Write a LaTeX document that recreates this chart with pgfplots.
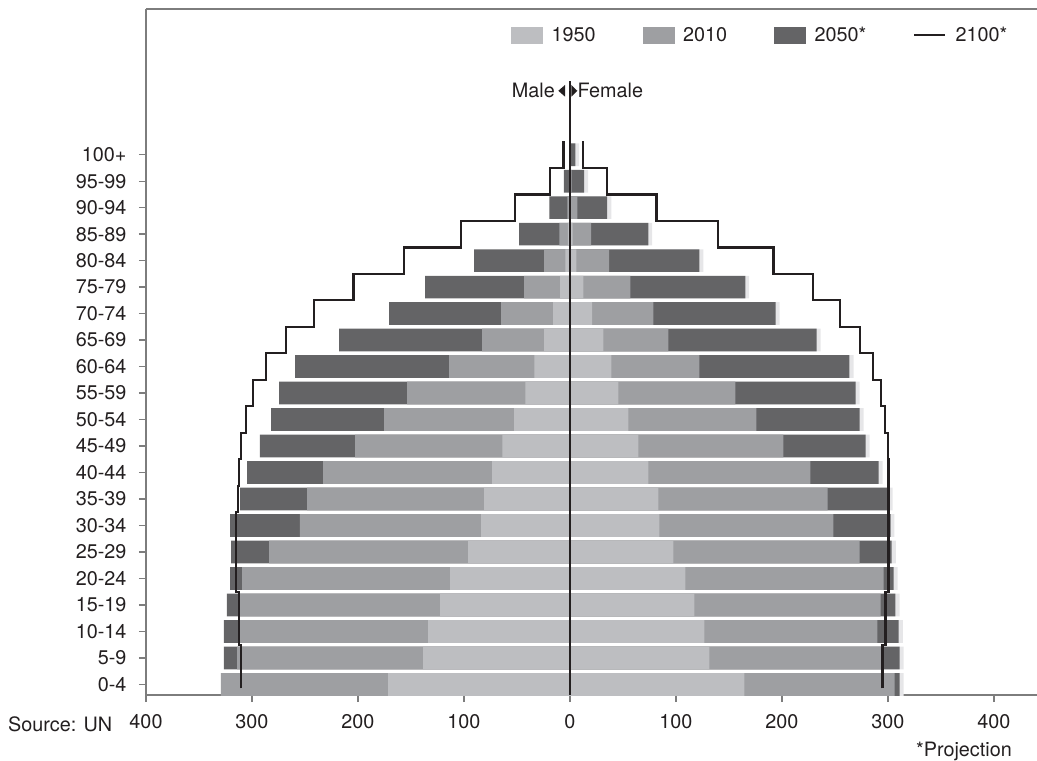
\documentclass[border=0pt]{standalone}
\usepackage{fontspec}
\setmainfont{TeX Gyre Heros}
\usepackage{pgfplots}
\usepackage{pgfplotstable}
\pgfplotsset{compat=1.18}
\definecolor{cA}{RGB}{189,190,193}
\definecolor{cB}{RGB}{158,159,162}
\definecolor{cC}{RGB}{100,100,102}
\definecolor{cE}{RGB}{230,230,232}
\definecolor{frame}{RGB}{125,125,125}
\definecolor{ink}{RGB}{35,31,32}
% population (millions) by age group; m = male, f = female
\pgfplotstableread{
idx m1950 f1950 m2010 f2010 m2050 f2050 edge
0  171.6 164.6 329.3 306.3 326   311   314.8
1  138.5 131.5 314.1 295   326.5 311   314.8
2  133.8 126.8 311.3 290   326.5 310   314
3  122.5 117.4 311.3 293   323.6 307   311
4  113   108.8 309.4 295.8 320.6 305.3 309
5  96    97.5  283.9 273.2 319.7 303.4 307.4
6  83.8  84.3  254.8 248.6 320.6 302.5 306
7  80.9  83.4  248   243   311.3 299.6 304.5
8  73.4  73.9  233   226.9 304.7 291.1 295
9  63.9  64.5  202.7 201.4 292.5 278.9 282.8
10 52.6  55    175.4 175.9 282   273.2 277
11 42.2  45.6  153.6 156   274.5 269.4 273.2
12 33.7  39    114   122   259.4 263.7 267.5
13 24.3  31.4  82.9  92.8  217.9 232.6 236.4
14 15.8  21    64.9  78.7  170.6 193.9 197.7
15 9.2   12.6  43.2  57    136.7 165.5 169
16 4.4   6     24.3  37    90.4  122   125.9
17 2     2.5   10.1  20    47.9  74    77.4
18 1     1     2.5   7     19.5  35    39
19 0.4   0.4   0.8   1.5   5.7   13.3  17
20 0.1   0.1   0.1   0.3   0.5   5     8.6
}\pop
\begin{document}
\begin{tikzpicture}[font=\fontsize{19.8}{23.5}\selectfont, text=ink]
\useasboundingbox (-146pt,-66pt) rectangle (891pt,695pt);
\begin{axis}[
  at={(0pt,0pt)}, anchor=south west,
  scale only axis, width=891pt, height=686pt,
  xmin=-400, xmax=440.6, ymin=-0.4, ymax=25.5,
  axis x line*=box, axis y line*=left,
  axis line style={draw=frame, line width=2pt},
  xtick pos=lower, ytick pos=left,
  tick align=outside, major tick length=7pt,
  tick style={draw=frame, line width=1.3pt},
  xtick={-400,-300,-200,-100,0,100,200,300,400},
  xticklabels={400,300,200,100,0,100,200,300,400},
  ytick={0,1,...,20},
  yticklabels={0-4,5-9,10-14,15-19,20-24,25-29,30-34,35-39,40-44,45-49,50-54,55-59,60-64,65-69,70-74,75-79,80-84,85-89,90-94,95-99,100+},
  tick label style={font=\fontsize{19.8}{23.5}\selectfont, text=ink},
  xticklabel style={yshift=-9pt},
  yticklabel style={xshift=-9pt},
  legend style={draw=none, fill=none, legend columns=4,
    at={(axis description cs:0.4097,0.962)}, anchor=west, inner sep=0pt,
    font=\fontsize{19.8}{23.5}\selectfont, text=ink,
    /tikz/every odd column/.append style={column sep=7pt},
    /tikz/every even column/.append style={column sep=45pt}},
  mybar/.style={xbar, bar width=22.7pt, bar shift=0pt, draw=none, forget plot},
]
\addlegendimage{legend image code/.code={\fill[cA] (0pt,-8pt) rectangle (31pt,8pt);}}
\addlegendentry{1950}
\addlegendimage{legend image code/.code={\fill[cB] (0pt,-8pt) rectangle (31pt,8pt);}}
\addlegendentry{2010}
\addlegendimage{legend image code/.code={\fill[cC] (0pt,-8pt) rectangle (31pt,8pt);}}
\addlegendentry{2050*}
\addlegendimage{legend image code/.code={\draw[ink, line width=2.3pt] (0pt,0pt) -- (31pt,0pt);}}
\addlegendentry{2100*}

\addplot[mybar, fill=cE] table[x=edge, y=idx] {\pop};
\addplot[mybar, fill=cC] table[x expr=-\thisrow{m2050}, y=idx] {\pop};
\addplot[mybar, fill=cC] table[x=f2050, y=idx] {\pop};
\addplot[mybar, fill=cB] table[x expr=-\thisrow{m2010}, y=idx] {\pop};
\addplot[mybar, fill=cB] table[x=f2010, y=idx] {\pop};
\addplot[mybar, fill=cA] table[x expr=-\thisrow{m1950}, y=idx] {\pop};
\addplot[mybar, fill=cA] table[x=f1950, y=idx] {\pop};

% 2100 projection, male (left) and female (right)
\addplot[forget plot, sharp plot, no marks, ink, line width=2.3pt, line join=miter] coordinates {
(-310.4,-0.15) (-310.4,1.5) (-312.3,1.5) (-312.3,3.5) (-315,3.5) (-315,6.5)
(-313.2,6.5) (-313.2,7.5) (-312.3,7.5) (-312.3,8.5) (-310.4,8.5) (-310.4,9.5)
(-305.7,9.5) (-305.7,10.5) (-299.1,10.5) (-299.1,11.5) (-286.8,11.5) (-286.8,12.5)
(-267.6,12.5) (-267.6,13.5) (-241.2,13.5) (-241.2,14.5) (-204.3,14.5) (-204.3,15.5)
(-156.8,15.5) (-156.8,16.5) (-102.6,16.5) (-102.6,17.5) (-51.7,17.5) (-51.7,18.5)
(-18.9,18.5) (-18.9,19.5) (-6,19.5) (-6,20.5)};
\addplot[forget plot, sharp plot, no marks, ink, line width=2.3pt, line join=miter] coordinates {
(294.9,-0.15) (294.9,1.5) (297.7,1.5) (297.7,3.5) (300.6,3.5) (300.6,8.5)
(299.9,8.5) (299.9,9.5) (297.1,9.5) (297.1,10.5) (293.3,10.5) (293.3,11.5)
(286.1,11.5) (286.1,12.5) (273.5,12.5) (273.5,13.5) (254.6,13.5) (254.6,14.5)
(229.1,14.5) (229.1,15.5) (192,15.5) (192,16.5) (139.4,16.5) (139.4,17.5)
(81.5,17.5) (81.5,18.5) (35.2,18.5) (35.2,19.5) (12.3,19.5) (12.3,20.5)};
% centre line
\addplot[forget plot, sharp plot, no marks, ink, line width=2.3pt] coordinates {(0,-0.4) (0,22.78)};
\end{axis}
\node[anchor=base east, inner sep=0pt] at (409pt,597.7pt) {Male};
\node[anchor=base west, inner sep=0pt] at (431.3pt,597.7pt) {Female};
\fill[ink] (412.3pt,604.2pt) -- (419pt,610pt) -- (419pt,598.4pt) -- cycle;
\fill[ink] (431.3pt,604.2pt) -- (425.4pt,610pt) -- (425.4pt,598.4pt) -- cycle;
\node[anchor=base west, inner sep=0pt] at (-138pt,-37pt) {Source: UN};
\node[anchor=base east, inner sep=0pt] at (866pt,-61pt) {*Projection};
\end{tikzpicture}
\end{document}
